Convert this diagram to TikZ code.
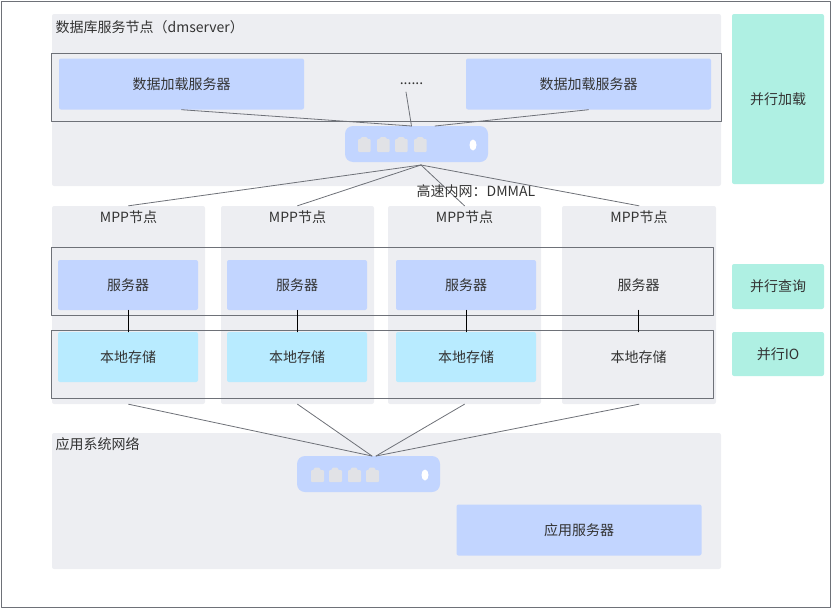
\documentclass[tikz,border=0pt]{standalone}
\usepackage{fontspec}
\setmainfont{Noto Sans CJK SC}
\usetikzlibrary{arrows,shapes.geometric}
\definecolor{panelgray}{HTML}{EDEEF2}
\definecolor{boxblue}{HTML}{C2D5FF}
\definecolor{boxcyan}{HTML}{B8EBFF}
\definecolor{boxgreen}{HTML}{AFF0E3}
\definecolor{portgray}{HTML}{E1E2E6}
\definecolor{framegray}{HTML}{6E7178}
\definecolor{txtgray}{HTML}{333333}
\tikzset{
  box/.style={rectangle,rounded corners=2pt,inner sep=0pt,text=txtgray,font=\fontsize{14}{16}\selectfont},
  panel/.style={box,fill=panelgray},
  bluebox/.style={box,fill=boxblue},
  cyanbox/.style={box,fill=boxcyan},
  greenbox/.style={box,fill=boxgreen},
  frame/.style={rectangle,draw=framegray,line width=0.9pt,inner sep=0pt},
  link/.style={draw=framegray,line width=0.8pt},
  txt/.style={inner sep=0pt,text=txtgray,font=\fontsize{14}{16}\selectfont},
  switchbox/.style={box,fill=boxblue,rounded corners=8pt,minimum width=143pt,minimum height=36pt},
  port/.style={fill=portgray,rounded corners=1pt},
  led/.style={ellipse,fill=white,minimum width=7pt,minimum height=11pt,inner sep=0pt}
}
\begin{document}
\begin{tikzpicture}[line cap=round,line join=round,x=1pt,y=-1pt]
\useasboundingbox (0,0) rectangle (832,608);
\draw[framegray,line width=0.9pt] (1,1) rectangle (830.5,607);
% panels
\node[panel,minimum width=669pt,minimum height=172pt] (dbpanel) at (386.5,100) {};
\node[panel,minimum width=669pt,minimum height=136pt] (apppanel) at (386.5,501) {};
\node[txt,anchor=west] (dbtitle) at (55.5,27) {数据库服务节点（dmserver）};
\node[txt,anchor=west] (apptitle) at (55.5,444) {应用系统网络};
% right column
\node[greenbox,minimum width=92pt,minimum height=170pt] (parload) at (778,99) {并行加载};
\node[greenbox,minimum width=92pt,minimum height=45pt] (parquery) at (778,286.5) {并行查询};
\node[greenbox,minimum width=92pt,minimum height=44pt] (pario) at (778,354) {并行IO};
% mpp columns
\foreach \n/\x/\w in {a/128.5/153,b/297.5/153,c/464.5/153,d/639/154}{
  \node[panel,minimum width=\w pt,minimum height=198pt] (mpp\n) at (\x,305) {};
  \node[txt] (mpptxt\n) at (\x,217) {MPP节点};
}
\foreach \n/\x in {a/128,b/297,c/466}{
  \node[bluebox,minimum width=140pt,minimum height=50pt] (srv\n) at (\x,285) {服务器};
  \node[cyanbox,minimum width=140pt,minimum height=50pt] (sto\n) at (\x,357) {本地存储};
}
\node[box,minimum width=140pt,minimum height=50pt] (srvd) at (638.5,285) {服务器};
\node[box,minimum width=140pt,minimum height=50pt] (stod) at (638.5,357) {本地存储};
% load servers
\node[bluebox,minimum width=245pt,minimum height=51pt] (loada) at (181.5,84) {数据加载服务器};
\node[bluebox,minimum width=245pt,minimum height=51pt] (loadb) at (588.5,84) {数据加载服务器};
\node[txt] (dots) at (411.5,84) {......};
% frames
\node[frame,minimum width=670pt,minimum height=68pt] (loadframe) at (386,87) {};
\node[frame,minimum width=662pt,minimum height=68pt] (srvframe) at (382,281) {};
\node[frame,minimum width=662pt,minimum height=68pt] (stoframe) at (382.5,364) {};
% switches
\node[switchbox] (swtop) at (416.5,144) {};
\node[switchbox] (swbot) at (368.5,474) {};
\foreach \x in {358,377,395,414}{
  \fill[port] (\x,152) -- (\x,139) -- (\x+3,139) -- (\x+3,137) -- (\x+9,137) -- (\x+9,139) -- (\x+12.5,139) -- (\x+12.5,152) -- cycle;
}
\foreach \x in {311,329,348,366}{
  \fill[port] (\x,482) -- (\x,470) -- (\x+3,470) -- (\x+3,467.5) -- (\x+9,467.5) -- (\x+9,470) -- (\x+13,470) -- (\x+13,482) -- cycle;
}
\node[led] (ledtop) at (473,145) {};
\node[led] (ledbot) at (425,475) {};
% connectors
\coordinate (swtopin) at (411.5,126);
\coordinate (swtopinb) at (435,126);
\coordinate (swtopout) at (421,165);
\coordinate (swbotin) at (372,456);
\coordinate (swbotinb) at (376,456);
\coordinate (dotsout) at (406,92);
\draw[link] (loada.south) -- (swtopin);
\draw[link] (dotsout) -- (swtopin);
\draw[link] (loadb.south) -- (swtopinb);
\foreach \n in {a,b,c,d}{
  \draw[link] (swtopout) -- (mpp\n.north);
}
\foreach \n in {a,b,c,d}{
  \draw[black,line width=0.8pt] (srv\n.south) -- (sto\n.north);
}
\draw[link] (mppa.south) -- (swbotin);
\draw[link] (mppb.south) -- (swbotin);
\draw[link] (mppc.south) -- (swbotinb);
\draw[link] (mppd.south) -- (swbotinb);
\node[txt,anchor=west] (dmmal) at (416.5,191) {高速内网：DMMAL};
% app server
\node[bluebox,minimum width=245pt,minimum height=51pt] (appsrv) at (579,530) {应用服务器};
\end{tikzpicture}
\end{document}
